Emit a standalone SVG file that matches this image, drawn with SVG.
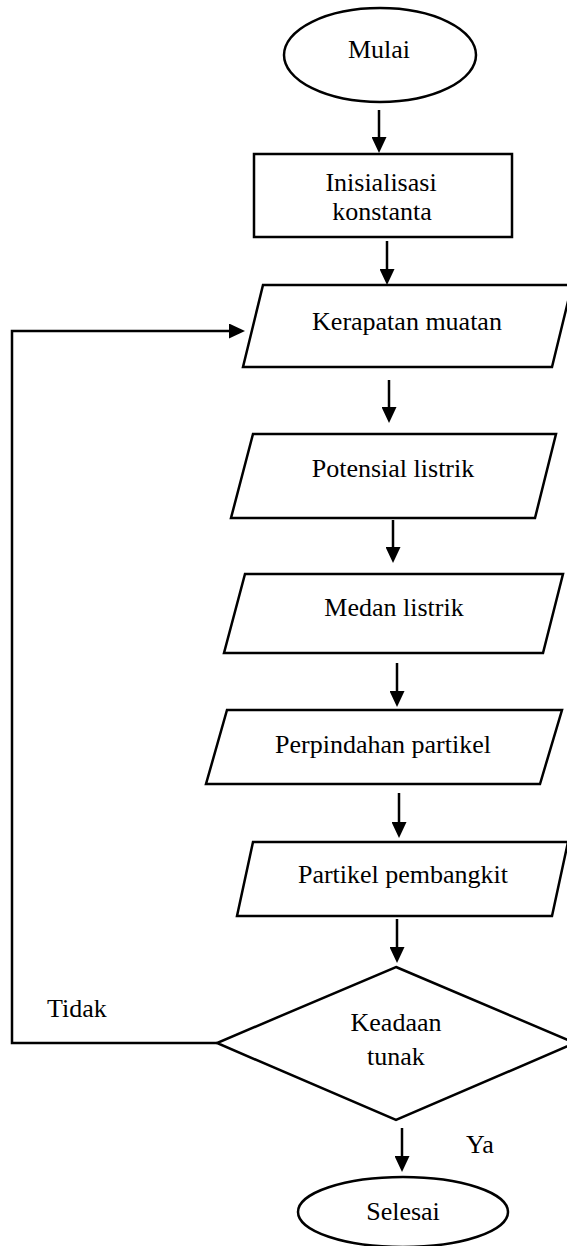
<svg xmlns="http://www.w3.org/2000/svg" width="567" height="1246" viewBox="0 0 567 1246">
<defs>
<style>
.s{fill:#fff;stroke:#000;stroke-width:2.5}
.c{fill:none;stroke:#000;stroke-width:2.5}
.t{font-family:"Liberation Serif","Times New Roman",serif;font-size:26px;fill:#000}
.m{text-anchor:middle}
</style>
<marker id="ah" viewBox="0 0 16 15" refX="8" refY="7.5" markerWidth="16" markerHeight="15" markerUnits="userSpaceOnUse" orient="auto">
<path d="M0,0 L16,7.5 L0,15 z" fill="#000"/>
</marker>
</defs>
<rect width="567" height="1246" fill="#fff"/>
<g id="connectors">
<line class="c" x1="379" y1="110" x2="379" y2="145" marker-end="url(#ah)"/>
<line class="c" x1="387" y1="241" x2="387" y2="277" marker-end="url(#ah)"/>
<line class="c" x1="389" y1="380" x2="389" y2="415" marker-end="url(#ah)"/>
<line class="c" x1="393" y1="520" x2="393" y2="555" marker-end="url(#ah)"/>
<line class="c" x1="397" y1="663" x2="397" y2="699" marker-end="url(#ah)"/>
<line class="c" x1="399" y1="793" x2="399" y2="830" marker-end="url(#ah)"/>
<line class="c" x1="397" y1="919" x2="397" y2="955" marker-end="url(#ah)"/>
<line class="c" x1="402" y1="1128" x2="402" y2="1164" marker-end="url(#ah)"/>
<polyline class="c" points="217,1043 12,1043 12,331 237,331" marker-end="url(#ah)"/>
</g>
<g id="mulai">
<ellipse class="s" cx="380" cy="55" rx="96" ry="47"/>
<text class="t m" x="379" y="58">Mulai</text>
</g>
<g id="inisialisasi">
<rect class="s" x="254" y="154" width="258" height="83"/>
<text class="t m" x="381" y="191">Inisialisasi</text>
<text class="t m" x="382" y="220">konstanta</text>
</g>
<g id="kerapatan">
<polygon class="s" points="263,285 572,285 552,367 243,367"/>
<text class="t m" x="407" y="330">Kerapatan muatan</text>
</g>
<g id="potensial">
<polygon class="s" points="253,434 556,434 535,518 231,518"/>
<text class="t m" x="393" y="477">Potensial listrik</text>
</g>
<g id="medan">
<polygon class="s" points="245,574 563,574 543,653 224,653"/>
<text class="t m" x="394" y="616">Medan listrik</text>
</g>
<g id="perpindahan">
<polygon class="s" points="227,710 562,710 540,784 206,784"/>
<text class="t m" x="383" y="753">Perpindahan partikel</text>
</g>
<g id="pembangkit">
<polygon class="s" points="253,842 568,842 552,916 237,916"/>
<text class="t m" x="403" y="883">Partikel pembangkit</text>
</g>
<g id="keadaan">
<polygon class="s" points="396,967 575,1043 396,1120 217,1043"/>
<text class="t m" x="396" y="1031">Keadaan</text>
<text class="t m" x="396" y="1065">tunak</text>
</g>
<g id="labels">
<text class="t" x="47" y="1017">Tidak</text>
<text class="t" x="466" y="1153">Ya</text>
</g>
<g id="selesai">
<ellipse class="s" cx="403" cy="1212" rx="105" ry="35"/>
<text class="t m" x="403" y="1220">Selesai</text>
</g>
</svg>
